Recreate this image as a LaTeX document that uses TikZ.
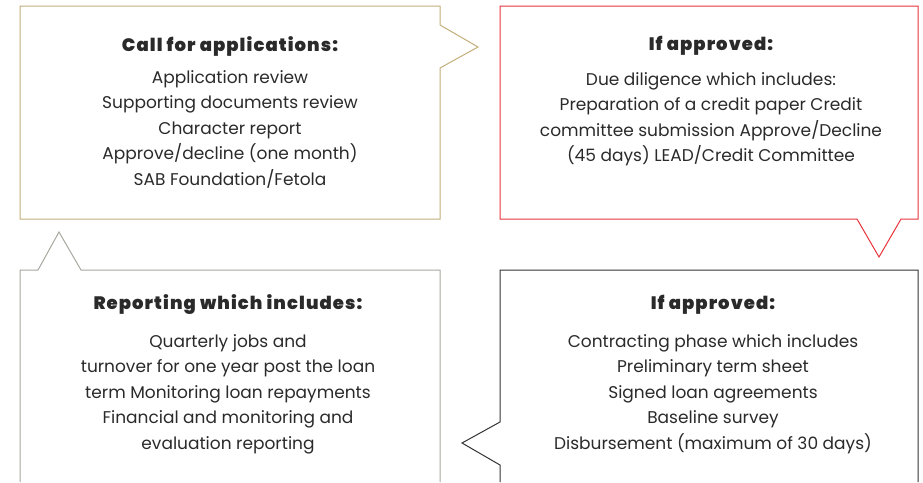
\documentclass[tikz,border=0pt]{standalone}
\usepackage{fontspec}
\setmainfont{Poppins}
\newfontfamily\heavyfont{Poppins Black}[LetterSpace=6]

\definecolor{goldline}{HTML}{C2AE7A}
\definecolor{redline}{HTML}{E8343B}
\definecolor{darkline}{HTML}{333333}
\definecolor{greyline}{HTML}{A8A8A0}
\definecolor{inktext}{HTML}{2A2A2A}

\tikzset{
  bubble/.style={line width=1pt, line join=miter},
  head/.style={font=\fontsize{18}{20}\heavyfont, text=inktext},
  body/.style={font=\fontsize{17}{25.5}\selectfont, text=inktext, align=center}
}

\begin{document}
\begin{tikzpicture}[x=1pt,y=-1pt]
        \useasboundingbox (0,0) rectangle (923,482);
        \draw[bubble, goldline](20,6)--(440,6)--(440,25)--(478,47)--(440,68)--(440,219)--(20,219)--cycle;
        \draw[bubble, redline](500,6)--(918,6)--(918,219)--(901,219)--(879,257)--(857,219)--(500,219)--cycle;
        \draw[bubble, darkline](500,482)--(500,465)--(462,443)--(500,422)--(500,270)--(918,270)--(918,482);
        \draw[bubble, greyline](20,482)--(20,270)--(38,270)--(59,232)--(81,270)--(440,270)--(440,482);
        \node[head](callhead) at (230,46){Call for applications:};
        \node[body](calltext) at (230,129){Application review\\Supporting documents review\\Character report\\Approve/decline (one month)\\SAB Foundation/Fetola};
        \node[head](duehead) at (711,46){If approved:};
        \node[body](duetext) at (711,119){Due diligence which includes:\\Preparation of a credit paper Credit\\committee submission Approve/Decline\\(45 days) LEAD/Credit Committee};
        \node[head](conhead) at (713,305){If approved:};
        \node[body](context) at (713,394){Contracting phase which includes\\Preliminary term sheet\\Signed loan agreements\\Baseline survey\\Disbursement (maximum of 30 days)};
        \node[head](rephead) at (228,305){Reporting which includes:};
        \node[body](reptext) at (228,394){Quarterly jobs and\\turnover for one year post the loan\\term Monitoring loan repayments\\Financial and monitoring and\\evaluation reporting};
    \end{tikzpicture}
\end{document}
